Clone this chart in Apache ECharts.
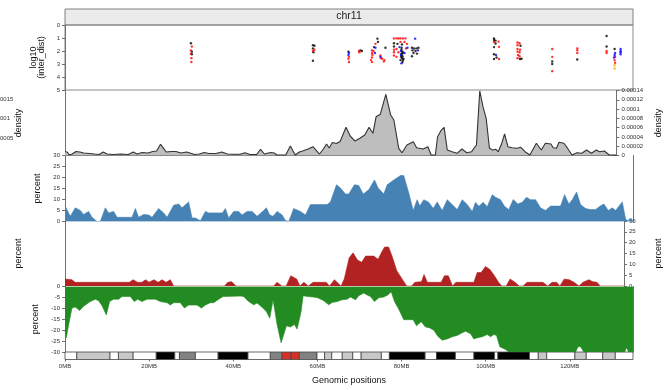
<!DOCTYPE html>
<html>
<head>
<meta charset="utf-8">
<script src="https://cdn.jsdelivr.net/npm/echarts@6/dist/echarts.min.js"></script>
<style>
  html, body { margin: 0; padding: 0; background: #fff; }
  #chart { width: 671px; height: 390px; }
</style>
</head>
<body>
<div id="chart"></div>
<script>
// ---- chromosome 11 (hg19), positions in Mb ----
const chromName = 'chr11';
const chromLengthMb = 135.006516;
const xTickMb = [0, 20, 40, 60, 80, 100, 120];

// cytobands: start, end (Mb) and Giemsa stain
const bandStartMb = [0, 2.8, 10.7, 12.7, 16.2, 21.7, 26.1, 27.2, 31.0, 36.4, 43.5, 48.8, 51.6, 53.7, 55.7, 59.9, 61.7, 63.4, 65.9, 68.4, 70.4, 75.2, 77.1, 85.6, 88.3, 92.8, 97.2, 102.1, 102.9, 110.4, 112.5, 114.5, 121.2, 123.9, 127.8, 130.8];
const bandEndMb   = [2.8, 10.7, 12.7, 16.2, 21.7, 26.1, 27.2, 31.0, 36.4, 43.5, 48.8, 51.6, 53.7, 55.7, 59.9, 61.7, 63.4, 65.9, 68.4, 70.4, 75.2, 77.1, 85.6, 88.3, 92.8, 97.2, 102.1, 102.9, 110.4, 112.5, 114.5, 121.2, 123.9, 127.8, 130.8, 135.006516];
const bandStain   = ['gneg', 'gpos50', 'gneg', 'gpos50', 'gneg', 'gpos100', 'gneg', 'gpos75', 'gneg', 'gpos100', 'gneg', 'gpos75', 'acen', 'acen', 'gpos75', 'gneg', 'gpos25', 'gneg', 'gpos25', 'gneg', 'gpos50', 'gneg', 'gpos100', 'gneg', 'gpos100', 'gneg', 'gpos100', 'gneg', 'gpos100', 'gneg', 'gpos50', 'gneg', 'gpos50', 'gneg', 'gpos50', 'gneg'];

// rainfall: [position Mb, log10 inter-mutation distance], one list per mutation class
const rainBlack = [
  [29.92, 1.40], [30.15, 2.05], [30.15, 2.25],
  [58.93, 1.55], [59.29, 1.60], [58.93, 1.80], [59.05, 2.10], [58.93, 2.75],
  [67.37, 2.05], [70.22, 1.95], [70.58, 2.00],
  [74.27, 1.05], [74.39, 1.30], [73.44, 1.70], [76.17, 1.75],
  [78.19, 1.40], [79.02, 1.45], [80.10, 1.50], [78.19, 1.65], [79.98, 1.90], [80.21, 2.05],
  [79.98, 2.20], [80.21, 2.40], [80.10, 2.55], [79.74, 2.70], [80.21, 2.85], [80.45, 2.60],
  [80.00, 1.75], [80.30, 2.15], [80.00, 2.30], [80.33, 2.70], [79.90, 2.45],
  [82.47, 1.75], [82.95, 1.80], [83.54, 1.80], [84.02, 1.75], [82.59, 1.95], [83.31, 2.00],
  [82.83, 2.15], [83.66, 2.20], [82.47, 2.40],
  [101.97, 1.03], [101.97, 1.15], [102.33, 1.20], [102.33, 1.42], [101.97, 1.70],
  [101.97, 2.25], [101.97, 2.62], [102.57, 2.50],
  [108.28, 1.60], [108.52, 2.60], [108.16, 2.62],
  [115.81, 2.80], [115.81, 3.00], [121.76, 2.65],
  [128.73, 0.85], [128.73, 1.65], [130.63, 1.85]
];
const rainRed = [
  [30.15, 1.65], [29.92, 1.95], [29.92, 2.20], [30.04, 2.55], [30.04, 2.85],
  [59.29, 1.90], [58.93, 2.00],
  [67.49, 2.45], [67.37, 2.60], [67.49, 2.85], [69.87, 2.00], [69.99, 2.10],
  [73.79, 1.45], [72.96, 1.95], [73.32, 2.00], [72.96, 2.15], [73.08, 2.30], [72.96, 2.50],
  [72.72, 2.70], [72.96, 2.85], [74.98, 2.35], [75.10, 2.55], [75.39, 2.60], [75.93, 2.70], [75.77, 2.80],
  [78.19, 1.03], [78.79, 1.03], [79.26, 1.03], [79.74, 1.03], [80.33, 1.03], [80.93, 1.03],
  [79.74, 1.30], [80.69, 1.30], [78.19, 1.90], [78.79, 1.85], [81.05, 1.80],
  [78.19, 2.10], [79.26, 2.10], [78.19, 2.35], [78.79, 2.45], [81.28, 1.45],
  [103.04, 1.28], [101.97, 1.30], [103.16, 1.68], [103.16, 2.62],
  [107.56, 1.35], [108.04, 1.40], [107.56, 1.55], [107.56, 1.85], [108.16, 1.90],
  [107.56, 2.05], [108.04, 2.10], [107.68, 2.30], [108.04, 2.40], [107.56, 2.55],
  [115.81, 1.85], [115.81, 2.45], [115.81, 3.55],
  [121.76, 1.80], [121.76, 1.95], [121.76, 2.15],
  [128.73, 2.00], [128.73, 2.15],
  [130.75, 2.45], [130.63, 2.70], [130.75, 2.90]
];
const rainBlue = [
  [67.49, 2.15], [67.37, 2.30], [73.79, 1.75], [73.67, 2.15], [74.98, 2.45],
  [79.50, 1.70], [79.86, 2.00], [79.86, 2.30], [79.98, 2.95], [80.69, 2.15], [81.40, 1.75],
  [83.23, 1.05], [83.90, 1.95], [102.45, 2.30],
  [130.75, 2.15], [130.63, 2.30], [130.51, 2.50],
  [132.06, 1.85], [132.06, 2.00], [132.06, 2.10], [132.06, 2.25]
];
const rainOrange = [[130.63, 3.10], [130.63, 3.35]];

// mutation density: [position Mb, density x 1e-5]
const densityE5 = [
  [0, 0.82], [0.55, 0.75], [1.02, 0.1], [1.74, 0.32], [2.69, 0.86], [3.64, 0.75], [4.59, 0.54],
  [6.02, 0.43], [7.2, 0.32], [8.4, 0.22], [9.35, 0.75], [10.3, 0.32], [11.96, 0.22], [13.63, 0.32],
  [15.53, 0.22], [16.71, 0.75], [17.67, 0.32], [18.86, 0.65], [20.29, 0.54], [21.48, 0.86],
  [22.43, 0.97], [23.38, 2.41], [24.09, 1.6], [24.8, 0.75], [26.0, 0.86], [27.18, 0.86],
  [28.37, 0.54], [29.8, 0.75], [30.99, 0.43], [31.7, 0.22], [32.89, 0.32], [34.08, 0.65],
  [35.27, 0.43], [36.94, 0.43], [38.36, 0.75], [39.79, 0.32], [41.2, 0.26], [42.88, 0.28],
  [44.07, 0.6], [45.26, 0.22], [46.92, 0.22], [47.87, 1.34], [48.82, 0.32], [49.78, 0.54],
  [50.49, 0.65], [51.2, 0.54], [51.92, 0.1], [54.05, 0.1], [55.17, 2.05], [56.36, 0.1],
  [57.38, 0.75], [58.34, 1.03], [59.52, 1.4], [60.71, 1.9], [62.31, 0.32], [63.09, 1.18],
  [64.04, 2.48], [64.68, 1.6], [65.47, 2.8], [66.42, 2.58], [67.37, 3.02], [67.85, 2.91],
  [68.8, 6.07], [69.82, 4.2], [71.01, 3.12], [72.2, 3.7], [73.39, 4.42], [74.44, 6.07],
  [75.39, 4.78], [76.17, 8.36], [77.19, 8.87], [78.55, 13.18], [79.74, 8.72], [80.52, 7.65],
  [81.71, 1.55], [82.52, 0.6], [83.71, 2.26], [85.28, 2.97], [86.09, 1.68], [87.66, 1.4],
  [88.85, 1.9], [89.66, 0.1], [90.68, 0.1], [91.22, 4.05], [92.03, 5.34], [92.82, 6.07],
  [93.6, 1.18], [94.79, 0.82], [95.98, 0.47], [97.17, 1.4], [98.36, 0.6], [99.55, 0.82],
  [100.74, 2.26], [101.55, 13.9], [102.33, 10.51], [103.12, 8.01], [103.92, 1.55],
  [104.71, 1.18], [105.49, 1.34], [106.06, 0.82], [106.85, 2.41], [107.63, 4.63],
  [108.44, 1.9], [109.46, 1.68], [110.65, 1.55], [111.6, 1.77], [112.63, 0.82], [113.82, 0.1],
  [115.41, 2.63], [116.6, 1.18], [117.62, 2.63], [118.98, 2.48], [119.52, 1.68], [120.33, 1.55],
  [120.95, 2.84], [122.14, 2.63], [122.95, 1.68], [124.14, 0.1], [125.33, 0.6], [126.52, 0.47],
  [127.7, 1.18], [128.89, 0.47], [130.08, 1.18], [130.87, 0.82], [132.06, 0.97], [133.25, 0.1],
  [135.0, 0.1]
];

// percentage tracks: [position Mb, percent]
const pctBlue = [
  [0, 7.2], [0.31, 7.7], [1.26, 2.4], [2.45, 6.2], [3.64, 5], [4.42, 3.2], [5.61, 4.6], [6.42, 1.9],
  [7.61, 0], [8.39, 0], [9.58, 6.2], [10.37, 3.9], [11.56, 4.6], [12.37, 1.9], [15.93, 1.9],
  [16.72, 5.9], [17.5, 1.9], [18.69, 3.2], [19.88, 3], [20.69, 1.9], [22.26, 5.9], [23.45, 3.9],
  [24.26, 1.9], [25.83, 7.4], [27.02, 8], [27.82, 6.2], [29.39, 8.9], [30.2, 1.6], [30.99, 1.6],
  [32.18, 0.3], [33.37, 4.6], [34.15, 3.9], [37.41, 3.9], [38.12, 5.9], [38.91, 1.6], [40.1, 4.6],
  [41.28, 4.6], [42.09, 3], [43.28, 4.6], [44.47, 4.6], [45.66, 2.4], [47.23, 5], [47.87, 6.2],
  [48.66, 3], [49.46, 2.4], [50.42, 4.6], [51.61, 3], [52.39, 0.5], [53.18, 0], [54.36, 5.9],
  [55.96, 4.6], [57.15, 3], [58.34, 7.7], [62.31, 7.7], [63.09, 8.9], [64.52, 16.7], [65.47, 15.2],
  [66.66, 12.5], [67.44, 12.5], [68.8, 16.7], [69.82, 16.4], [70.87, 12.5], [72.2, 14.4],
  [73.56, 18.9], [74.44, 15.2], [75.77, 12.5], [76.58, 16.7], [78.15, 18.9], [79.74, 20.9],
  [80.52, 20.9], [81.71, 13], [82.76, 5], [83.71, 9.9], [84.33, 7], [85.28, 9.9], [86.47, 8.7],
  [87.51, 5.9], [88.47, 8.9], [89.66, 5], [90.85, 9.9], [92.03, 7.7], [93.22, 5.4], [94.41, 9.9],
  [95.6, 7.7], [96.79, 4.6], [97.57, 8.7], [98.36, 6.9], [99.41, 8.7], [100.36, 6.7], [101.55, 12.2],
  [102.33, 11], [103.52, 9.9], [104.47, 6.9], [105.49, 5.4], [106.54, 10], [107.63, 8], [108.68, 8.7],
  [109.7, 11], [110.65, 9.9], [111.84, 9.9], [113.03, 6.2], [114.22, 5], [115.41, 7], [117.79, 7],
  [118.74, 12.2], [119.76, 8], [120.57, 9.9], [121.59, 13.4], [122.54, 7.7], [123.73, 5.9],
  [124.92, 5.4], [126.11, 5.4], [127.13, 6.9], [128.08, 8], [129.13, 5], [130.08, 6.2], [130.87, 5],
  [132.46, 8.9], [133.25, 1], [133.79, 0.3], [134.43, 1.6], [135.0, 0]
];
const pctRed = [
  [0, 3.2], [0.48, 3.2], [1.66, 2.9], [2.45, 1.7], [15.53, 1.7], [16.48, 2.9], [17.5, 1.7],
  [18.55, 1.7], [19.5, 2.9], [20.29, 1.7], [21.48, 2.9], [22.5, 1.7], [23.45, 2.9], [24.4, 1.7],
  [25.45, 2.9], [26.23, 0], [38.53, 0], [39.31, 1.7], [40.26, 2], [41.28, 0], [50.42, 0], [51.2, 1.7],
  [52.39, 0], [53.41, 0], [54.53, 4.7], [55.96, 3.2], [56.74, 0], [57.69, 1.7], [58.74, 0],
  [59.93, 1.7], [63.09, 1.7], [63.88, 0], [65.07, 2.9], [66.66, 0], [67.44, 3.2], [68.63, 13],
  [69.58, 15.3], [70.63, 12], [71.65, 11], [72.6, 13.8], [74.58, 13.8], [75.62, 12.3], [76.58, 16],
  [77.19, 18], [78.15, 18], [78.95, 14], [80.14, 7], [81.33, 3.5], [82.52, 0], [83.71, 0],
  [84.5, 1.7], [86.09, 2], [86.71, 5.3], [87.51, 1.7], [90.85, 1.7], [91.63, 4.7], [92.58, 4.7],
  [93.6, 0], [94.41, 1.7], [98.76, 1.7], [99.55, 6.2], [100.5, 6.2], [101.55, 9], [102.57, 7.7],
  [103.52, 5.3], [104.71, 1.7], [105.49, 0], [106.54, 0], [107.49, 3.2], [108.68, 1.7], [109.7, 0],
  [110.65, 0], [111.6, 1.7], [115.41, 1.7], [116.6, 0], [117.62, 1.7], [118.74, 1.7], [119.52, 0],
  [120.57, 3.2], [121.76, 2.9], [122.95, 1.7], [124.14, 0], [125.09, 1.7], [126.52, 2.9],
  [127.47, 2], [128.49, 1.7], [129.27, 0], [135.0, 0]
];
const pctGreen = [
  [0, -20], [0.3, -23.5], [0.86, -17.6], [1.66, -9.9], [2.45, -9.4], [3.47, -11], [4.42, -9],
  [6.02, -6.9], [7.2, -5.8], [7.99, -6.5], [8.8, -8.8], [9.82, -13], [10.61, -6.9], [11.56, -5.8],
  [12.75, -5.8], [13.56, -4.6], [15.53, -4.6], [16.48, -6.9], [17.27, -5.8], [18.31, -6.9],
  [19.5, -5.8], [21.48, -5.8], [22.66, -6.9], [24.26, -7.4], [25.04, -8.5], [25.83, -7.4],
  [27.42, -7.4], [28.37, -9.9], [29.39, -8.5], [31.39, -8.5], [32.41, -9.9], [33.37, -8.5],
  [34.55, -7.4], [35.34, -7.4], [36.53, -5.8], [37.57, -4.6], [41.69, -4.4], [42.47, -4.6],
  [43.66, -6.9], [44.85, -8.4], [45.66, -7.6], [46.85, -9.5], [47.87, -11.5], [48.66, -14.5],
  [49.46, -6.1], [50.42, -17.5], [51.37, -25.8], [51.99, -22], [52.63, -18], [53.58, -18.5],
  [54.53, -17.4], [55.17, -19.5], [56.12, -11.5], [56.6, -4.2], [57.69, -4.6], [58.98, -4.8],
  [60.07, -5.2], [61.5, -6.5], [62.69, -8.4], [63.5, -7.3], [64.68, -6.9], [65.87, -6.1],
  [67.06, -5.8], [67.85, -4.8], [69.04, -6.1], [69.82, -4.2], [71.01, -3], [71.82, -3.9],
  [72.6, -4.6], [73.56, -6.9], [74.58, -5.2], [75.77, -4.8], [76.72, -3.9], [77.53, -2.4],
  [78.31, -6.9], [79.33, -10.4], [80.52, -15.2], [82.76, -15.2], [83.54, -18], [84.66, -16.1],
  [85.68, -18.5], [86.71, -19], [87.66, -20], [88.61, -22.8], [89.66, -24.6], [90.85, -24],
  [92.03, -23], [93.22, -22.4], [94.41, -21.2], [95.2, -20.5], [96.39, -21.6], [97.17, -24],
  [97.98, -23.5], [99.17, -23], [100.36, -22], [101.14, -23], [101.93, -22], [102.57, -22.4],
  [103.35, -27.6], [104.71, -28.8], [105.49, -30], [121.36, -30], [121.95, -27.6], [122.54, -27.6],
  [123.33, -30], [133.01, -30], [133.49, -28], [133.97, -30], [135.0, -30]
];

// ---- styling ----
const FONT = 'Liberation Sans';
const AXIS_GREY = '#707070';
const stainColour = {
  gneg: '#FFFFFF', gpos25: '#C8C8C8', gpos50: '#C8C8C8', gpos75: '#828282',
  gpos100: '#000000', acen: '#D92F27'
};
const tickLabel = { fontSize: 6, color: '#333', fontFamily: FONT, margin: 5 };
const axisTitle = { fontSize: 9, color: '#111', fontFamily: FONT };
const axisLine = { show: true, lineStyle: { color: AXIS_GREY, width: 1 } };
const axisTick = { show: true, length: 3, lineStyle: { color: AXIS_GREY } };

const PLOT_LEFT = 65, PLOT_RIGHT = 38;
const gridTops = [25, 90.5, 155.5, 221, 286.5, 352];
const gridHeights = [65, 65, 66, 65, 65.5, 7.5];

const grids = gridTops.map((top, i) => ({
  left: PLOT_LEFT, right: PLOT_RIGHT, top: top, height: gridHeights[i],
  show: i === 0, borderColor: '#8a8a8a', borderWidth: 1, backgroundColor: 'transparent'
}));

const xAxes = gridTops.map((_, i) => {
  const base = { type: 'value', gridIndex: i, min: 0, max: chromLengthMb, splitLine: { show: false } };
  if (i === 5) {
    return Object.assign(base, {
      position: 'bottom',
      axisLine: { show: false },
      axisTick: { show: true, length: 2, lineStyle: { color: AXIS_GREY }, customValues: xTickMb },
      axisLabel: Object.assign({}, tickLabel, { margin: 4, customValues: xTickMb, formatter: v => v + 'MB' }),
      name: 'Genomic positions', nameLocation: 'middle', nameGap: 17, nameTextStyle: axisTitle
    });
  }
  if (i === 1) {
    return Object.assign(base, {
      axisLine: { show: true, lineStyle: { color: '#555', width: 1 } },
      axisTick: { show: false }, axisLabel: { show: false }
    });
  }
  return Object.assign(base, { show: false });
});

function plainAxis(gridIndex, position, min, max, extra) {
  return Object.assign({
    type: 'value', gridIndex, position, min, max,
    axisLine, axisTick: { show: false }, axisLabel: { show: false },
    splitLine: { show: false }, nameLocation: 'middle', nameRotate: 90, nameTextStyle: axisTitle
  }, extra || {});
}
function tickedAxis(gridIndex, position, min, max, interval, extra) {
  return plainAxis(gridIndex, position, min, max, Object.assign({
    interval, axisTick, axisLabel: tickLabel
  }, extra || {}));
}

const yAxes = [
  tickedAxis(0, 'left', 0, 5, 1, {
    inverse: true, name: 'log10\n(inter_dist)', nameGap: 12,
    nameTextStyle: Object.assign({}, axisTitle, { lineHeight: 8 })
  }),                                                                                          // 0
  plainAxis(1, 'left', 0, 0.00014, { name: 'density', nameGap: 42 }),                        // 1
  tickedAxis(1, 'right', 0, 0.00014, 0.00002, { name: 'density', nameGap: 26 }),              // 2
  tickedAxis(2, 'left', 0, 30, 5, { name: 'percent', nameGap: 22 }),                          // 3
  plainAxis(2, 'right', 0, 30),                                                                // 4
  plainAxis(3, 'left', 0, 30, { name: 'percent', nameGap: 42 }),                              // 5
  tickedAxis(3, 'right', 0, 30, 5, { name: 'percent', nameGap: 30 }),                         // 6
  tickedAxis(4, 'left', -30, 0, 5, { name: 'percent', nameGap: 22 }),                         // 7
  plainAxis(4, 'right', -30, 0),                                                               // 8
  { type: 'value', gridIndex: 5, min: 0, max: 1, show: false }                                 // 9
];

function rainSeries(data, colour) {
  return {
    type: 'scatter', xAxisIndex: 0, yAxisIndex: 0, data,
    symbol: 'circle', symbolSize: 2.4, itemStyle: { color: colour }, silent: true
  };
}
function areaSeries(data, xi, yi, colour) {
  return {
    type: 'line', xAxisIndex: xi, yAxisIndex: yi, data, showSymbol: false, silent: true,
    lineStyle: { color: colour, width: 0.6 }, areaStyle: { color: colour, opacity: 1 }
  };
}

const bandData = bandStartMb.map((s, i) => [s, bandEndMb[i], i]);

const option = {
  animation: false,
  backgroundColor: '#ffffff',
  textStyle: { fontFamily: FONT },
  title: {
    text: chromName, left: 349, top: 11, padding: 0, textAlign: 'center',
    textStyle: { fontSize: 10.5, fontWeight: 'normal', color: '#222', fontFamily: FONT }
  },
  graphic: [
    { type: 'rect', z: -1, shape: { x: 65, y: 9, width: 568, height: 16 },
      style: { fill: '#EBEBEB', stroke: '#808080', lineWidth: 1 } },
    { type: 'text', x: -5, y: 99, style: { text: '0.0015', fontSize: 6, fill: '#333', fontFamily: FONT, verticalAlign: 'middle' } },
    { type: 'text', x: -5, y: 118.5, style: { text: '0.001', fontSize: 6, fill: '#333', fontFamily: FONT, verticalAlign: 'middle' } },
    { type: 'text', x: -5, y: 138, style: { text: '0.0005', fontSize: 6, fill: '#333', fontFamily: FONT, verticalAlign: 'middle' } }
  ],
  grid: grids,
  xAxis: xAxes,
  yAxis: yAxes,
  series: [
    rainSeries(rainBlack, '#000000'),
    rainSeries(rainRed, '#FF0000'),
    rainSeries(rainBlue, '#0000FF'),
    rainSeries(rainOrange, '#FFA500'),
    {
      type: 'line', xAxisIndex: 1, yAxisIndex: 1, showSymbol: false, silent: true,
      data: densityE5.map(([mb, v]) => [mb, v * 1e-5]),
      lineStyle: { color: '#333333', width: 1.1 },
      areaStyle: { color: '#BEBEBE', opacity: 1 }
    },
    areaSeries(pctBlue, 2, 3, '#4682B4'),
    areaSeries(pctRed, 3, 6, '#B22222'),
    areaSeries(pctGreen, 4, 7, '#228B22'),
    {
      type: 'custom', xAxisIndex: 5, yAxisIndex: 9, data: bandData, silent: true,
      renderItem: (params, api) => {
        const p0 = api.coord([api.value(0), 0]);
        const p1 = api.coord([api.value(1), 1]);
        const stain = bandStain[api.value(2)];
        return {
          type: 'rect',
          shape: { x: p0[0], y: p1[1], width: p1[0] - p0[0], height: p0[1] - p1[1] },
          style: { fill: stainColour[stain], stroke: '#444', lineWidth: 0.8 }
        };
      }
    }
  ]
};

const chart = echarts.init(document.getElementById('chart'), null, { renderer: 'canvas' });
chart.setOption(option);
</script>
</body>
</html>
